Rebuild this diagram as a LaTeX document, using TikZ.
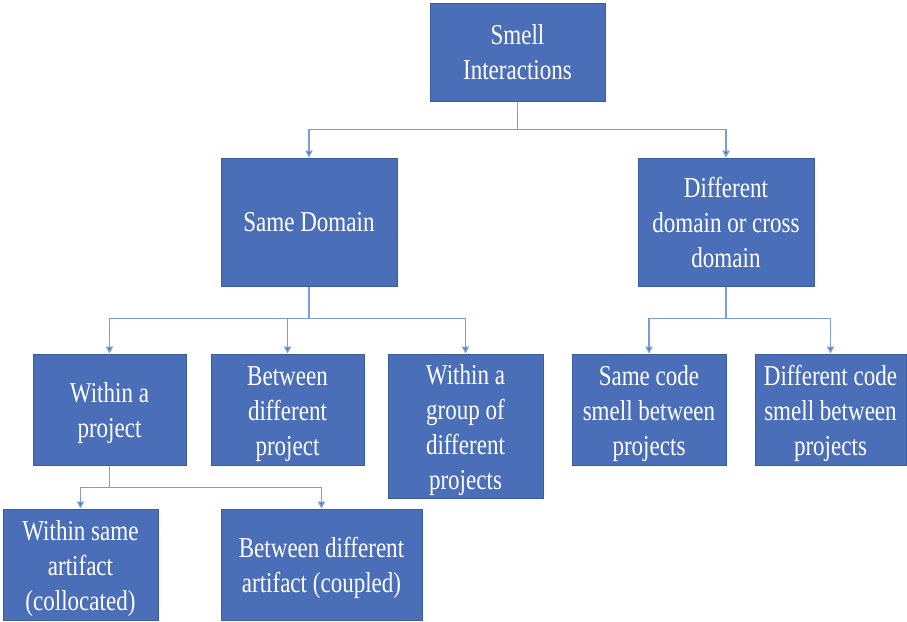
\documentclass[tikz,border=0pt]{standalone}
\usepackage{fontspec}
\setmainfont{Liberation Serif}[FakeStretch=0.8]
\usepackage{xcolor}
\usetikzlibrary{arrows.meta,positioning}

\definecolor{boxblue}{HTML}{4A6FB8}
\definecolor{boxedge}{HTML}{3B5D9E}
\definecolor{linkblue}{HTML}{7C9CD6}
\definecolor{tipblue}{HTML}{4472C4}

% taller first line, pushes the text a bit lower in its box
\newcommand{\lowtop}{\rule{0pt}{14pt}}

\begin{document}
\begin{tikzpicture}[
        x=0.5pt, y=-0.5pt,
        box/.style={rectangle, draw=boxedge, line width=0.5pt, fill=boxblue, text=white, align=center,
            font=\fontsize{14.4}{17.5}\selectfont, inner sep=0pt},
        link/.style={draw=linkblue, line width=0.7pt, -{Triangle[length=3.5pt,width=3.6pt,fill=tipblue]}}
    ]
        \useasboundingbox (0,0) rectangle (907,622);

        % Root
        \node[box, minimum width=87.5pt, minimum height=49pt] (root) at (517.5,52) {Smell\\Interactions};

        % Second level
        \node[box, minimum width=88pt, minimum height=64pt] (same) at (309,222) {Same Domain};
        \node[box, minimum width=88pt, minimum height=64pt] (cross) at (726,222) {Different\\domain or cross\\domain};

        % Third level
        \node[box, minimum width=76.5pt, minimum height=55.5pt] (within) at (109.5,409.5) {\lowtop Within a\\project};
        \node[box, minimum width=76.5pt, minimum height=55.5pt] (between) at (287.5,409.5) {\lowtop Between\\different\\project};
        \node[box, minimum width=77.5pt, minimum height=72pt] (group) at (465.5,426) {\lowtop Within a\\group of\\different\\projects};
        \node[box, minimum width=77pt, minimum height=55.5pt] (samecode) at (649,409.5) {\lowtop Same code\\smell between\\projects};
        \node[box, minimum width=75.5pt, minimum height=55.5pt] (diffcode) at (830.5,409.5) {\lowtop Different code\\smell between\\projects};

        % Fourth level
        \node[box, minimum width=77.5pt, minimum height=55.5pt] (artifact) at (80.5,564.5) {\lowtop Within same\\artifact\\(collocated)};
        \node[box, minimum width=100.5pt, minimum height=55.5pt] (coupled) at (321.5,564.5) {\lowtop Between different\\artifact (coupled)};

        % Connections
        \draw[link] (root.south) -- ++(0,28) -| (same.north);
        \draw[link] (root.south) -- ++(0,28) -| (cross.north);
        \draw[link] (same.south) -- ++(0,32) -| (within.north);
        \draw[link] (same.south) -- ++(0,32) -| (between.north);
        \draw[link] (same.south) -- ++(0,32) -| (group.north);
        \draw[link] (cross.south) -- ++(0,32) -| (samecode.north);
        \draw[link] (cross.south) -- ++(0,32) -| (diffcode.north);
        \draw[link] (within.south) -- ++(0,22) -| (artifact.north);
        \draw[link] (within.south) -- ++(0,22) -| (coupled.north);
    \end{tikzpicture}
\end{document}
